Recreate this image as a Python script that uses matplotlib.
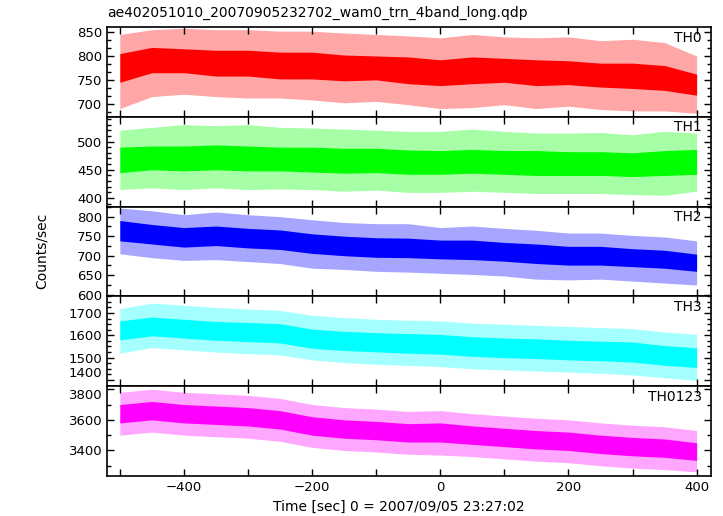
import numpy as np
import matplotlib
matplotlib.use("Agg")
import matplotlib.pyplot as plt
from matplotlib.ticker import MultipleLocator

plt.rcParams['font.family'] = ['DejaVu Sans']

# time grid (sec from 2007/09/05 23:27:02), band levels
time = [-500, -450, -400, -350, -300, -250, -200, -150, -100, -50,
        0, 50, 100, 150, 200, 250, 300, 350, 400]

# TH0
th0_lo = [690, 715, 720, 715, 712, 712, 708, 702, 705, 698, 690, 692, 698, 690, 695, 688, 685, 685, 680]
th0_core_lo = [745, 765, 765, 758, 758, 752, 752, 748, 750, 742, 738, 742, 745, 738, 740, 735, 732, 728, 718]
th0_core_hi = [805, 818, 815, 812, 812, 808, 808, 802, 800, 798, 792, 798, 795, 792, 790, 785, 785, 780, 762]
th0_hi = [845, 855, 858, 855, 855, 852, 852, 848, 845, 842, 838, 845, 840, 838, 840, 832, 835, 828, 800]

# TH1
th1_lo = [415, 418, 415, 418, 415, 416, 415, 412, 414, 410, 410, 412, 410, 408, 408, 408, 406, 405, 412]
th1_core_lo = [445, 450, 448, 450, 448, 448, 446, 444, 445, 442, 442, 444, 442, 440, 440, 440, 438, 440, 442]
th1_core_hi = [490, 492, 492, 494, 492, 490, 490, 488, 488, 485, 484, 486, 484, 484, 482, 482, 480, 484, 486]
th1_hi = [520, 525, 530, 528, 530, 525, 524, 522, 520, 518, 518, 522, 518, 515, 515, 516, 512, 518, 515]

# TH2
th2_lo = [705, 695, 688, 690, 685, 680, 668, 665, 660, 658, 655, 652, 648, 640, 638, 640, 635, 630, 625]
th2_core_lo = [738, 730, 722, 726, 720, 716, 706, 700, 696, 695, 692, 690, 686, 680, 676, 676, 672, 668, 660]
th2_core_hi = [790, 780, 772, 776, 770, 766, 756, 750, 746, 745, 740, 740, 734, 730, 724, 724, 718, 714, 704]
th2_hi = [822, 815, 805, 812, 805, 800, 792, 785, 782, 782, 772, 776, 770, 765, 758, 758, 752, 748, 738]

# TH3
th3_lo = [1520, 1545, 1535, 1525, 1518, 1512, 1490, 1478, 1470, 1465, 1460, 1450, 1445, 1440, 1435, 1430, 1422, 1410, 1398]
th3_core_lo = [1580, 1598, 1588, 1578, 1572, 1566, 1542, 1532, 1526, 1520, 1516, 1506, 1500, 1496, 1490, 1486, 1480, 1466, 1456]
th3_core_hi = [1665, 1682, 1672, 1662, 1658, 1652, 1628, 1618, 1612, 1608, 1604, 1594, 1588, 1584, 1578, 1574, 1570, 1554, 1544]
th3_hi = [1720, 1745, 1735, 1725, 1718, 1712, 1690, 1680, 1672, 1668, 1665, 1655, 1650, 1645, 1640, 1635, 1630, 1615, 1605]

# TH0123
th0123_lo = [3500, 3520, 3500, 3490, 3480, 3460, 3420, 3400, 3390, 3375, 3370, 3360, 3345, 3330, 3320, 3300, 3285, 3275, 3260]
th0123_core_lo = [3580, 3600, 3580, 3570, 3560, 3540, 3500, 3480, 3470, 3455, 3455, 3440, 3425, 3410, 3400, 3380, 3365, 3355, 3335]
th0123_core_hi = [3700, 3720, 3700, 3690, 3680, 3660, 3620, 3600, 3590, 3575, 3580, 3560, 3545, 3530, 3520, 3500, 3485, 3475, 3450]
th0123_hi = [3780, 3800, 3780, 3770, 3760, 3740, 3700, 3680, 3670, 3655, 3660, 3640, 3625, 3610, 3600, 3580, 3565, 3555, 3530]

labels = ["TH0", "TH1", "TH2", "TH3", "TH0123"]
colors = ["#ff0000", "#00ff00", "#0000ff", "#00ffff", "#ff00ff"]
bands = [
    (th0_lo, th0_core_lo, th0_core_hi, th0_hi),
    (th1_lo, th1_core_lo, th1_core_hi, th1_hi),
    (th2_lo, th2_core_lo, th2_core_hi, th2_hi),
    (th3_lo, th3_core_lo, th3_core_hi, th3_hi),
    (th0123_lo, th0123_core_lo, th0123_core_hi, th0123_hi),
]
ylims = [(673, 861), (385, 544), (596, 826), (1372, 1775), (3233, 3820)]
ymajor = [50, 50, 50, 100, 200]
yminor = [50 / 3, 10, 25, 25, 100]

fig, axes = plt.subplots(5, 1, sharex=True, figsize=(7.23, 5.16), dpi=100)
fig.subplots_adjust(left=0.148, right=0.983, bottom=0.0775, top=0.948, hspace=0)

for ax, lab, col, (lo, clo, chi, hi), yl, ma, mi in zip(axes, labels, colors, bands,
                                                         ylims, ymajor, yminor):
    ax.fill_between(time, lo, hi, color=col, alpha=0.35, lw=0)
    ax.fill_between(time, clo, chi, color=col, lw=0)
    ax.set_ylim(*yl)
    ax.yaxis.set_major_locator(MultipleLocator(ma))
    ax.yaxis.set_minor_locator(MultipleLocator(mi))
    ax.text(0.985, 0.88, lab, transform=ax.transAxes, ha="right", va="center", fontsize=10)
    ax.tick_params(which="both", direction="in", top=True, right=True, labelsize=9.5,
                   width=1)
    ax.tick_params(which="major", length=5)
    ax.tick_params(which="minor", length=3)
    ax.tick_params(axis="x", which="minor", length=5)
    for s in ax.spines.values():
        s.set_linewidth(1.2)

axes[0].set_xlim(-520, 422)
axes[0].xaxis.set_major_locator(MultipleLocator(200))
axes[0].xaxis.set_minor_locator(MultipleLocator(100))

# keep the touching labels at the TH3 / TH0123 border apart
fig.canvas.draw()
for t in axes[3].get_yticklabels():
    if t.get_text().replace("\u2212", "-") == "1400":
        t.set_va("bottom")
for t in axes[4].get_yticklabels():
    if t.get_text() == "3800":
        t.set_va("top")

fig.text(0.148, 0.975, "ae402051010_20070905232702_wam0_trn_4band_long.qdp",
         ha="left", va="center", fontsize=10)
fig.text(0.551, 0.017, "Time [sec] 0 = 2007/09/05 23:27:02", ha="center", va="center",
         fontsize=10)
fig.text(0.058, 0.513, "Counts/sec", ha="center", va="center", rotation=90, fontsize=10)

fig.savefig("out.png", dpi=100)
